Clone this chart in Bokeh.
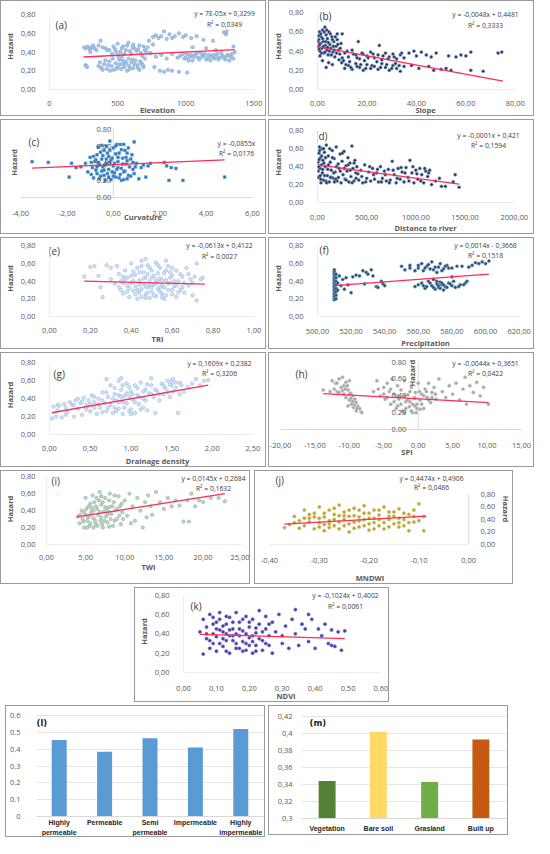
import math
from bokeh.plotting import figure
from bokeh.layouts import column, row, Spacer
from bokeh.models import FixedTicker, Label, Span
from bokeh.embed import file_html
from bokeh.resources import INLINE

# ---------------- DATA ----------------
elevation_pts = [(255,0.45),(265,0.44),(280,0.46),(295,0.43),(310,0.45),(330,0.44),(345,0.42),(360,0.47),(375,0.52),(390,0.45),(410,0.44),(425,0.42),(265,0.26),(275,0.24),(270,0.25),
    (360,0.25),(380,0.23),(400,0.27),(420,0.22),(440,0.30),(455,0.25),(470,0.21),(485,0.28),(500,0.24),(510,0.32),(525,0.22),(540,0.27),(555,0.30),(570,0.20),(585,0.25),(600,0.29),(615,0.23),(630,0.31),(645,0.26),(660,0.21),(675,0.28),(690,0.24),(530,0.35),(580,0.33),
    (460,0.38),(480,0.43),(500,0.49),(520,0.40),(540,0.46),(560,0.42),(580,0.50),(600,0.38),(620,0.44),(640,0.41),(660,0.47),(680,0.36),(700,0.42),(720,0.45),(740,0.39),(760,0.48),(505,0.36),(615,0.48),
    (730,0.52),(760,0.56),(780,0.58),(800,0.55),(820,0.57),(840,0.62),(860,0.54),(880,0.59),(900,0.55),(920,0.57),(950,0.60),(980,0.56),(1000,0.58),(1040,0.55),(1080,0.57),(1130,0.53),
    (780,0.35),(820,0.37),(860,0.33),(900,0.38),(940,0.34),
    (810,0.20),(840,0.19),(870,0.21),(900,0.20),(950,0.19),(1010,0.18),(770,0.24),
    (960,0.36),(990,0.33),(1010,0.38),(1030,0.35),(1050,0.31),(1070,0.37),(1090,0.34),(1110,0.39),(1130,0.36),(1150,0.32),(1170,0.37),(1190,0.35),(1210,0.33),(1230,0.38),(1250,0.34),(1270,0.36),(1290,0.32),(1310,0.37),(1330,0.35),(1350,0.33),(1360,0.40),
    (1050,0.45),(1150,0.44),(1220,0.42),(1280,0.61),(1295,0.59),(1300,0.62),(1350,0.46),(1200,0.52),
    (370,0.29),(390,0.21),(410,0.31),(430,0.26),(445,0.20),(465,0.33),(490,0.22),(515,0.27),(535,0.31),(550,0.24),(565,0.28),(590,0.22),(610,0.32),(625,0.27),(650,0.23),(665,0.30),(685,0.26),(700,0.33),
    (440,0.42),(470,0.46),(490,0.40),(530,0.44),(550,0.38),(570,0.47),(590,0.41),(610,0.45),(650,0.43),(670,0.39),(690,0.46),(710,0.40),
    (980,0.38),(1000,0.34),(1020,0.31),(1040,0.37),(1060,0.35),(1080,0.39),(1100,0.32),(1120,0.35),(1140,0.38),(1160,0.34),(1180,0.31),(1200,0.37),(1220,0.35),(1240,0.32),(1260,0.39),(1280,0.34),(1300,0.36),(1320,0.31),(1340,0.38),(300,0.40),(320,0.47)]

slope_pts = [(0.3,0.45),(0.5,0.52),(0.8,0.60),(1.0,0.40),(1.2,0.48),(1.5,0.55),(1.8,0.43),(2.0,0.62),(2.3,0.50),(2.6,0.38),(3.0,0.65),(3.2,0.46),(3.5,0.57),(3.8,0.41),(4.0,0.53),(4.3,0.36),(4.6,0.60),(5.0,0.47),(5.4,0.43),(5.8,0.55),(6.2,0.39),(6.6,0.50),(7.0,0.34),(7.5,0.45),(8.0,0.58),(8.5,0.41),(9.0,0.37),(9.5,0.48),(10.0,0.33),(1.0,0.35),(2.0,0.30),(3.5,0.23),(4.5,0.28),(6.0,0.26),(0.5,0.56),(2.8,0.44),
    (11,0.22),(12.5,0.25),(14,0.21),(15.5,0.27),(17,0.23),(18.5,0.20),(20,0.26),(21.5,0.22),(23,0.24),(24.5,0.21),(26,0.27),(27.5,0.23),(29,0.20),(30.5,0.25),(32,0.22),(33.5,0.19),(35,0.24),(13,0.29),(19,0.30),
    (11,0.38),(12.5,0.34),(14,0.41),(15.5,0.36),(16.5,0.50),(17,0.32),(18.5,0.37),(20,0.35),(21.5,0.39),(23,0.33),(24.5,0.36),(25,0.46),(26,0.31),(27.5,0.38),(29,0.34),(30.5,0.37),(32,0.32),(33.5,0.36),(35,0.33),
    (37,0.38),(38,0.25),(39,0.40),(40,0.35),(41,0.22),(42,0.39),(44,0.36),(45,0.24),(46,0.34),(47,0.20),(48,0.38),(50,0.21),(52,0.22),(53,0.35),(54,0.20),(56,0.34),(58,0.36),(60,0.35),(62,0.39),(62,0.20),(67,0.19),(73,0.38),(74.5,0.39),
    (0.2,0.50),(0.6,0.42),(0.9,0.47),(1.3,0.58),(1.6,0.38),(2.1,0.53),(2.4,0.45),(2.7,0.60),(3.1,0.39),(3.4,0.50),(3.7,0.62),(4.1,0.44),(4.4,0.49),(4.8,0.40),(5.2,0.58),(5.6,0.36),(6.0,0.52),(6.4,0.45),(6.8,0.41),(7.2,0.55),(7.7,0.38),(8.2,0.47),(8.7,0.31),(9.2,0.43),(9.8,0.28),
    (10.5,0.30),(11.5,0.26),(12,0.40),(13.5,0.23),(14.5,0.37),(16,0.24),(16,0.33),(17.5,0.26),(18,0.38),(19.5,0.22),(20.5,0.33),(22,0.25),(22.5,0.37),(24,0.29),(25.5,0.23),(26.5,0.35),(28,0.26),(28.5,0.32),(30,0.22),(31,0.34),(31.5,0.27),(33,0.25),(34,0.38),(10,0.58),(8,0.52)]

curvature_pts = [(-0.9,0.35),(-0.8,0.42),(-0.7,0.28),(-0.7,0.50),(-0.6,0.22),(-0.6,0.38),(-0.5,0.45),(-0.5,0.31),(-0.4,0.55),(-0.4,0.26),(-0.3,0.40),(-0.3,0.60),(-0.2,0.33),(-0.2,0.48),(-0.1,0.21),(-0.1,0.44),(0.0,0.37),(0.0,0.58),(0.05,0.29),(0.1,0.51),(0.1,0.24),(0.2,0.42),(0.2,0.35),(0.3,0.62),(0.3,0.27),(0.4,0.46),(0.4,0.39),(0.5,0.31),(0.5,0.55),(0.6,0.22),(0.6,0.43),(0.7,0.36),(0.8,0.50),(0.9,0.28),(0.9,0.65),(1.0,0.40),(1.1,0.22),(1.2,0.35),(-1.0,0.47),(-1.1,0.30),(-1.2,0.40),(-1.4,0.36),(-0.15,0.66),(0.35,0.20),(-0.35,0.20),(0.65,0.58),(-0.65,0.59),(-0.25,0.52),(0.15,0.62),(0.75,0.25),(-0.85,0.23),(0.45,0.21),(1.3,0.38),(1.4,0.24),
    (-0.75,0.44),(-0.45,0.36),(-0.05,0.30),(0.25,0.52),(0.55,0.47),(0.85,0.33),(-0.95,0.27),(-0.55,0.53),(-0.15,0.41),(0.35,0.34),
    (-0.85,0.48),(-0.75,0.32),(-0.65,0.41),(-0.55,0.25),(-0.45,0.49),(-0.35,0.38),(-0.25,0.28),(-0.15,0.55),(-0.05,0.46),(0.05,0.40),(0.15,0.33),(0.25,0.23),(0.35,0.56),(0.45,0.30),(0.55,0.39),(0.65,0.26),(0.75,0.45),(0.85,0.41),(0.95,0.36),(-0.95,0.41),(-0.5,0.61),(0.0,0.25),(0.2,0.47),(-0.3,0.45),(0.6,0.52),(-0.7,0.36),(0.1,0.60),(-0.2,0.24),(0.45,0.62),(-0.4,0.32),
    (-3.5,0.42),(-2.8,0.41),(-1.8,0.40),(-1.9,0.24),(-1.6,0.35),(1.5,0.37),(1.6,0.40),(2.2,0.41),(2.3,0.37),(2.5,0.35),(2.7,0.34),(2.4,0.20),(3.0,0.20),(4.8,0.24)]

distance_pts = [(5,0.45),(10,0.28),(15,0.55),(20,0.62),(25,0.38),(30,0.50),(35,0.22),(40,0.42),(45,0.60),(50,0.33),(55,0.47),(60,0.25),(70,0.56),(80,0.40),(90,0.64),(100,0.30),(110,0.52),(120,0.23),(130,0.45),(140,0.36),(150,0.58),(160,0.27),(170,0.49),(180,0.34),(190,0.62),(200,0.24),(210,0.43),(220,0.38),(230,0.54),(240,0.22),(250,0.46),(260,0.31),(270,0.57),(280,0.26),(290,0.41),(300,0.35),(310,0.50),(320,0.23),(330,0.44),(340,0.29),(350,0.63),(360,0.38),(370,0.24),(380,0.47),(390,0.33),(400,0.40),(8,0.35),(18,0.48),(28,0.30),(65,0.44),(85,0.24),(105,0.37),(125,0.60),(145,0.28),(165,0.33),(185,0.26),
    (420,0.25),(440,0.36),(460,0.22),(480,0.42),(500,0.27),(520,0.34),(540,0.24),(560,0.38),(580,0.26),(600,0.33),(620,0.23),(640,0.40),(660,0.27),(680,0.35),(700,0.24),(720,0.37),(740,0.25),(760,0.46),(780,0.31),(800,0.22),(820,0.38),(840,0.26),(860,0.34),(880,0.23),(900,0.39),(920,0.28),(940,0.47),(960,0.33),(980,0.22),(1000,0.36),(1020,0.26),(1040,0.38),(1060,0.31),(1080,0.22),(1100,0.35),(1120,0.29),(1140,0.36),(1160,0.20),
    (1200,0.24),(1240,0.27),(1260,0.18),(1300,0.18),(1380,0.23),(1400,0.31),(1440,0.17),
    (12,0.40),(22,0.58),(32,0.26),(42,0.52),(52,0.37),(62,0.60),(72,0.30),(82,0.50),(92,0.22),(112,0.42),(132,0.28),(152,0.50),(172,0.23),(192,0.40),(212,0.28),(232,0.35),(252,0.55),(272,0.38),(292,0.25),(312,0.42),(332,0.36),(352,0.22),(372,0.44),(392,0.27),
    (410,0.32),(450,0.29),(490,0.23),(530,0.40),(570,0.31),(610,0.37),(650,0.23),(690,0.31),(730,0.22),(770,0.36),(810,0.27),(850,0.39),(890,0.33),(930,0.24),(970,0.40),(1010,0.32),(1050,0.24),(1090,0.38),(1130,0.33)]

tri_pts = [(0.17,0.45),(0.20,0.56),(0.22,0.57),(0.24,0.46),(0.25,0.33),(0.26,0.22),(0.28,0.58),(0.30,0.55),(0.30,0.42),(0.32,0.37),(0.33,0.57),(0.34,0.48),(0.35,0.30),(0.35,0.40),(0.36,0.26),(0.37,0.52),(0.38,0.35),(0.38,0.44),(0.39,0.22),(0.40,0.60),(0.40,0.38),(0.41,0.29),(0.42,0.47),(0.42,0.34),(0.43,0.55),(0.43,0.20),(0.44,0.41),(0.45,0.63),(0.45,0.31),(0.46,0.37),(0.46,0.50),(0.47,0.25),(0.47,0.44),(0.48,0.58),(0.48,0.33),(0.49,0.21),(0.49,0.40),(0.50,0.52),(0.50,0.28),(0.51,0.36),(0.51,0.46),(0.52,0.61),(0.52,0.23),(0.53,0.39),(0.53,0.31),(0.54,0.55),(0.54,0.43),(0.55,0.26),(0.55,0.35),(0.56,0.49),(0.56,0.20),(0.57,0.41),(0.58,0.57),(0.58,0.30),(0.59,0.38),(0.60,0.25),(0.60,0.46),(0.61,0.34),(0.62,0.52),(0.62,0.22),(0.63,0.40),(0.64,0.30),(0.65,0.45),(0.66,0.27),(0.67,0.55),(0.68,0.35),(0.69,0.42),(0.70,0.24),(0.71,0.45),(0.72,0.60),(0.72,0.18),(0.74,0.42),(0.75,0.44),(0.47,0.65),(0.57,0.63),
    (0.36,0.45),(0.41,0.51),(0.44,0.27),(0.49,0.36),(0.52,0.41),(0.57,0.24),(0.59,0.50),(0.44,0.36),(0.54,0.33),(0.39,0.32),
    (0.34,0.33),(0.36,0.38),(0.38,0.28),(0.40,0.46),(0.41,0.40),(0.43,0.30),(0.44,0.50),(0.45,0.22),(0.46,0.43),(0.47,0.34),(0.48,0.27),(0.48,0.48),(0.49,0.55),(0.50,0.33),(0.50,0.44),(0.51,0.24),(0.52,0.37),(0.53,0.49),(0.54,0.28),(0.55,0.41),(0.56,0.33),(0.57,0.52),(0.58,0.37),(0.59,0.44),(0.60,0.30),(0.61,0.40),(0.62,0.35),(0.63,0.27),(0.64,0.48),(0.66,0.38),(0.45,0.57),(0.53,0.58),(0.42,0.25),(0.55,0.22),(0.47,0.21),(0.60,0.55),(0.37,0.42),(0.65,0.33),(0.70,0.38),(0.68,0.48)]

precip_pts = [(510,0.19),(510,0.21),(510,0.23),(510,0.25),(510,0.27),(510,0.29),(510,0.31),(510,0.33),(510,0.35),(510,0.37),(510,0.39),(510,0.41),(510,0.43),(510,0.45),(510,0.47),(510,0.49),(510,0.51),(510,0.53),(511,0.20),(511,0.24),(511,0.28),(511,0.32),(511,0.36),(511,0.40),(511,0.44),(511,0.48),(512,0.30),(512,0.38),
    (513,0.46),(514,0.35),(515,0.42),(516,0.31),(517,0.44),(518,0.36),(520,0.27),(521,0.45),(523,0.47),(525,0.46),(527,0.52),(528,0.37),(529,0.50),(530,0.48),(532,0.53),(533,0.46),(535,0.34),(536,0.33),(538,0.40),(539,0.37),(540,0.35),
    (550,0.57),(552,0.53),(555,0.55),(560,0.55),(562,0.60),(563,0.52),(565,0.57),(567,0.54),(568,0.62),(570,0.56),(571,0.50),(573,0.60),(575,0.54),(577,0.58),(580,0.55),(583,0.57),(586,0.57),(590,0.56),
    (558,0.34),(562,0.38),(564,0.32),(566,0.40),(568,0.35),(569,0.42),(570,0.31),(571,0.37),(572,0.33),(573,0.39),(574,0.36),(575,0.30),(576,0.34),(578,0.38),(580,0.35),(582,0.33),(585,0.36),(588,0.38),(580,0.45),
    (592,0.58),(594,0.61),(596,0.60),(598,0.62),(600,0.60),(602,0.63),
    (555,0.58),(558,0.52),(560,0.58),(564,0.55),(566,0.59),(569,0.53),(572,0.56),(574,0.52),(576,0.57),(578,0.55),(560,0.36),(563,0.35),(565,0.34),(567,0.38),(569,0.33),(571,0.40),(572,0.35),(573,0.32),(574,0.38),(575,0.36),(577,0.33),(579,0.37),(581,0.40),(584,0.34),(587,0.36),(589,0.40)]

drainage_pts = [(0.03,0.18),(0.05,0.31),(0.08,0.20),(0.10,0.33),(0.12,0.32),(0.15,0.19),(0.18,0.34),(0.20,0.30),(0.22,0.25),(0.25,0.36),(0.28,0.33),(0.30,0.20),(0.32,0.38),(0.35,0.29),(0.38,0.35),(0.40,0.22),(0.42,0.41),(0.45,0.33),(0.48,0.38),(0.50,0.26),(0.52,0.44),(0.55,0.36),(0.58,0.23),(0.60,0.40),(0.62,0.30),(0.65,0.47),(0.68,0.35),(0.70,0.26),(0.72,0.42),(0.75,0.55),(0.75,0.33),(0.78,0.24),(0.80,0.45),(0.82,0.38),(0.85,0.29),(0.85,0.60),(0.88,0.50),(0.90,0.23),(0.92,0.43),(0.95,0.35),(0.95,0.57),(0.98,0.26),(1.00,0.48),(1.02,0.39),(1.05,0.55),(1.05,0.24),(1.08,0.44),(1.10,0.34),(1.12,0.58),(1.15,0.40),(1.18,0.50),(1.20,0.27),(1.22,0.46),(1.25,0.55),(1.28,0.42),(1.30,0.24),(1.32,0.49),(1.35,0.38),(1.38,0.57),(1.40,0.45),(1.42,0.52),(1.45,0.60),(1.48,0.42),(1.50,0.55),(1.52,0.48),(1.55,0.58),(1.58,0.24),(1.60,0.45),(1.62,0.55),(1.65,0.48),(1.70,0.53),(1.75,0.57),(1.80,0.62),(1.85,0.55),(1.90,0.60),(1.95,0.61),(0.88,0.63),(1.25,0.63),(0.70,0.62),
    (0.80,0.30),(0.90,0.36),(1.00,0.28),(0.65,0.38),(0.55,0.30),(0.98,0.42),(1.15,0.30),(0.85,0.44),
    (0.10,0.27),(0.20,0.22),(0.30,0.33),(0.40,0.37),(0.45,0.28),(0.55,0.42),(0.60,0.34),(0.65,0.25),(0.70,0.47),(0.72,0.30),(0.78,0.40),(0.80,0.52),(0.82,0.26),(0.85,0.36),(0.88,0.42),(0.90,0.55),(0.92,0.30),(0.95,0.46),(0.98,0.53),(1.00,0.23),(1.02,0.45),(1.05,0.36),(1.08,0.52),(1.10,0.42),(1.12,0.28),(1.15,0.48),(1.18,0.38),(1.20,0.56),(1.25,0.45),(1.30,0.50),(1.35,0.45),(1.40,0.55),(1.45,0.48),(1.50,0.60),(1.55,0.52),(1.60,0.58),(1.48,0.56),(1.52,0.62),(0.35,0.40),(0.50,0.34)]

spi_pts = [(-13.8,0.47),(-12.5,0.58),(-12.0,0.55),(-11.8,0.45),(-11.5,0.60),(-11.2,0.50),(-11.0,0.62),(-10.8,0.42),(-10.5,0.56),(-10.5,0.38),(-10.2,0.47),(-10.0,0.35),(-10.0,0.58),(-9.8,0.43),(-9.7,0.30),(-9.5,0.40),(-9.4,0.26),(-9.2,0.36),(-9.0,0.32),(-9.0,0.22),(-8.8,0.28),(-8.5,0.25),(-8.3,0.21),(-8.2,0.20),(-11.5,0.44),(-12.8,0.45),(-10.8,0.52),(-10.2,0.28),(-9.6,0.34),
    (-6.5,0.45),(-6.0,0.58),(-5.5,0.40),(-5.0,0.50),(-4.8,0.36),(-4.5,0.55),(-4.2,0.45),(-4.0,0.30),(-3.8,0.60),(-3.5,0.42),(-3.2,0.25),(-3.0,0.52),(-2.8,0.36),(-2.5,0.47),(-2.3,0.22),(-2.0,0.58),(-1.8,0.33),(-1.5,0.41),(-1.3,0.27),(-1.0,0.50),(-0.8,0.20),(-0.6,0.37),(-0.4,0.44),(-0.2,0.30),(0.0,0.55),(0.3,0.35),(0.5,0.42),(0.8,0.25),(1.0,0.48),(1.3,0.38),(1.5,0.55),(1.8,0.32),(2.0,0.44),(2.3,0.50),(2.6,0.36),(3.0,0.60),(-2.0,0.20),(-1.0,0.22),(-0.5,0.28),
    (3.5,0.45),(4.0,0.38),(4.5,0.52),(5.0,0.42),(5.5,0.55),(6.0,0.35),(6.5,0.48),(6.8,0.62),(7.0,0.30),(7.5,0.52),(8.0,0.44),(8.5,0.56),(9.0,0.40),(9.5,0.50),(10.2,0.30),
    (-11.0,0.46),(-10.6,0.48),(-10.3,0.52),(-10.0,0.42),(-9.8,0.37),(-9.5,0.33),(-9.3,0.29),(-8.9,0.25),(-11.8,0.55),(-12.2,0.48),(-5.8,0.48),(-5.0,0.42),(-4.5,0.38),(-4.0,0.48),(-3.5,0.33),(-3.0,0.40),(-2.5,0.30),(-2.0,0.40),(-1.5,0.35),(-1.2,0.45),(-0.8,0.30),(-0.5,0.38),(-0.2,0.25),(0.2,0.45),(0.5,0.30),(0.8,0.40),(1.2,0.45),(1.5,0.35),(2.0,0.38),(2.5,0.42),(-3.0,0.28),(-1.8,0.25),(-1.2,0.33),(-0.3,0.20),(0.3,0.24)]

twi_pts = [(4.0,0.33),(4.2,0.25),(4.5,0.40),(4.8,0.20),(5.0,0.35),(5.2,0.28),(5.4,0.45),(5.5,0.22),(5.7,0.38),(5.9,0.58),(6.0,0.31),(6.1,0.50),(6.3,0.24),(6.5,0.42),(6.6,0.35),(6.8,0.62),(6.9,0.28),(7.0,0.47),(7.2,0.20),(7.3,0.39),(7.5,0.55),(7.6,0.33),(7.8,0.26),(8.0,0.44),(8.1,0.60),(8.3,0.36),(8.5,0.22),(8.6,0.50),(8.8,0.40),(9.0,0.30),(9.2,0.57),(9.4,0.45),(9.5,0.24),(9.7,0.38),(10.0,0.52),(5.0,0.55),(6.0,0.20),(7.0,0.57),(8.0,0.21),(4.6,0.30),(5.8,0.43),(6.7,0.52),(7.7,0.42),(8.7,0.28),
    (10.3,0.34),(10.6,0.60),(11.0,0.45),(11.3,0.28),(11.6,0.55),(12.0,0.40),(12.3,0.20),(12.6,0.50),(13.0,0.58),(13.3,0.45),(13.5,0.35),(14.0,0.62),(14.5,0.50),(15.0,0.42),(15.5,0.55),(16.0,0.45),(16.5,0.52),(17.0,0.46),(17.5,0.27),(18.0,0.52),(18.2,0.27),(18.5,0.60),(19.0,0.45),(19.5,0.52),(20.0,0.50),(21.0,0.55),(22.0,0.55),(22.8,0.51),(10.8,0.25),(12.8,0.32),
    (4.3,0.35),(4.7,0.27),(5.1,0.42),(5.3,0.32),(5.6,0.25),(5.6,0.48),(6.0,0.40),(6.2,0.28),(6.4,0.55),(6.5,0.22),(6.8,0.38),(7.0,0.32),(7.2,0.50),(7.4,0.28),(7.5,0.44),(7.8,0.36),(8.0,0.52),(8.2,0.30),(8.4,0.45),(8.7,0.58),(9.0,0.42),(9.3,0.34),(9.6,0.48),(9.8,0.30),(5.5,0.34),(6.3,0.45),(7.1,0.24),(8.0,0.38),(4.8,0.38),(5.2,0.20)]

mndwi_pts = [(-0.37,0.27),(-0.35,0.45),(-0.34,0.38),(-0.33,0.55),(-0.33,0.30),(-0.32,0.42),(-0.31,0.25),(-0.31,0.50),(-0.30,0.35),(-0.30,0.60),(-0.29,0.22),(-0.29,0.44),(-0.28,0.38),(-0.28,0.55),(-0.27,0.30),(-0.27,0.48),(-0.26,0.63),(-0.26,0.25),(-0.25,0.40),(-0.25,0.52),(-0.24,0.33),(-0.24,0.20),(-0.23,0.46),(-0.23,0.58),(-0.22,0.28),(-0.22,0.38),(-0.21,0.50),(-0.21,0.62),(-0.20,0.23),(-0.20,0.42),(-0.19,0.35),(-0.19,0.55),(-0.18,0.30),(-0.18,0.47),(-0.17,0.60),(-0.17,0.25),(-0.16,0.40),(-0.16,0.52),(-0.15,0.33),(-0.15,0.45),(-0.14,0.28),(-0.14,0.57),(-0.13,0.40),(-0.13,0.50),(-0.12,0.35),(-0.12,0.22),(-0.11,0.45),(-0.11,0.55),(-0.10,0.38),(-0.10,0.65),(-0.09,0.22),(-0.09,0.45),(-0.36,0.32),(-0.32,0.48),(-0.28,0.27),(-0.24,0.45),(-0.20,0.33),(-0.16,0.28),(-0.30,0.42),(-0.26,0.36),(-0.22,0.55),(-0.18,0.40),(-0.14,0.42),(-0.34,0.26),
    (-0.35,0.35),(-0.33,0.42),(-0.32,0.36),(-0.31,0.44),(-0.30,0.28),(-0.29,0.50),(-0.28,0.33),(-0.27,0.40),(-0.26,0.46),(-0.25,0.30),(-0.24,0.55),(-0.23,0.36),(-0.22,0.44),(-0.21,0.30),(-0.20,0.50),(-0.19,0.42),(-0.18,0.55),(-0.17,0.35),(-0.16,0.45),(-0.15,0.52),(-0.14,0.35),(-0.13,0.30),(-0.12,0.48),(-0.11,0.36),(-0.27,0.58),(-0.23,0.26),(-0.19,0.25),(-0.29,0.32),(-0.25,0.46),(-0.21,0.40)]

ndvi_pts = [(0.05,0.42),(0.06,0.19),(0.06,0.55),(0.07,0.35),(0.07,0.47),(0.08,0.25),(0.08,0.60),(0.09,0.40),(0.09,0.30),(0.10,0.52),(0.10,0.22),(0.11,0.44),(0.11,0.62),(0.12,0.35),(0.12,0.27),(0.13,0.50),(0.13,0.40),(0.14,0.20),(0.14,0.57),(0.15,0.33),(0.15,0.45),(0.16,0.25),(0.16,0.62),(0.17,0.38),(0.17,0.52),(0.18,0.22),(0.18,0.43),(0.19,0.30),(0.19,0.58),(0.20,0.36),(0.20,0.47),(0.21,0.20),(0.21,0.55),(0.22,0.28),(0.22,0.41),(0.23,0.50),(0.23,0.64),(0.24,0.33),(0.24,0.23),(0.25,0.45),(0.25,0.58),(0.26,0.38),(0.26,0.28),(0.27,0.52),(0.27,0.20),(0.12,0.42),(0.14,0.38),(0.16,0.40),(0.10,0.37),(0.18,0.32),
    (0.28,0.42),(0.29,0.60),(0.30,0.30),(0.31,0.48),(0.32,0.25),(0.33,0.55),(0.34,0.65),(0.34,0.40),(0.35,0.28),(0.36,0.50),(0.37,0.45),(0.38,0.32),(0.39,0.55),(0.40,0.25),(0.41,0.45),(0.42,0.38),(0.43,0.50),(0.44,0.30),(0.45,0.28),(0.45,0.44),(0.46,0.27),(0.47,0.42),(0.48,0.23),(0.49,0.43),(0.30,0.38),(0.38,0.60),
    (0.07,0.40),(0.08,0.33),(0.09,0.50),(0.10,0.45),(0.11,0.30),(0.11,0.55),(0.12,0.48),(0.13,0.33),(0.13,0.22),(0.14,0.44),(0.15,0.38),(0.15,0.52),(0.16,0.30),(0.17,0.45),(0.17,0.25),(0.18,0.55),(0.19,0.40),(0.19,0.23),(0.20,0.28),(0.20,0.52),(0.21,0.38),(0.22,0.46),(0.22,0.22),(0.23,0.35),(0.24,0.42),(0.25,0.30),(0.26,0.50),(0.13,0.58),(0.09,0.57),(0.21,0.32)]

# trend line end points (x0, x1), (y0, y1)
trend_a = ([250, 1360], [0.347, 0.425])
trend_b = ([0, 75], [0.448, 0.088])
trend_c = ([-3.5, 4.8], [0.345, 0.44])
trend_d = ([0, 1440], [0.42, 0.205])
trend_e = ([0.17, 0.76], [0.40, 0.365])
trend_f = ([510, 602], [0.35, 0.48])
trend_g = ([0.03, 1.95], [0.243, 0.552])
trend_h = ([-13.8, 10.2], [0.426, 0.32])
trend_i = ([3.9, 22.8], [0.325, 0.599])
trend_j = ([-0.37, -0.085], [0.325, 0.452])
trend_k = ([0.05, 0.49], [0.395, 0.35])

hz_ticks = [0, 0.2, 0.4, 0.6, 0.8]
hz_comma = ["0,00", "0,20", "0,40", "0,60", "0,80"]
hz_dot = ["0.00", "0.20", "0.40", "0.60", "0.80"]

perm_cats = ["Highly permeable", "Permeable", "Semi permeable", "Impermeable", "Highly impermeable"]
perm_lines = [("Highly", "permeable"), ("Permeable", ""), ("Semi", "permeable"), ("Impermeable", ""), ("Highly", "impermeable")]
perm_vals = [0.455, 0.385, 0.465, 0.41, 0.52]
perm_ticks = [0, 0.1, 0.2, 0.3, 0.4, 0.5, 0.6]
perm_tick_labels = ["0", "0.1", "0.2", "0.3", "0.4", "0.5", "0.6"]

lc_cats = ["Vegetation", "Bare soil", "Grasland", "Built up"]
lc_lines = [("Vegetation", ""), ("Bare soil", ""), ("Grasland", ""), ("Built up", "")]
lc_vals = [0.344, 0.402, 0.343, 0.393]
lc_colors = ["#548235", "#ffd966", "#70ad47", "#c55a11"]
lc_ticks = [0.3, 0.32, 0.34, 0.36, 0.38, 0.4, 0.42]
lc_tick_labels = ["0,3", "0,32", "0,34", "0,36", "0,38", "0,4", "0,42"]

# ---------------- STYLE ----------------
FONT = "Open Sans"
CAT_FONT = "Liberation Sans"
TICK_C = "#595959"
AX_C = "#d9d9d9"
PANEL_STYLE = {"border": "1px solid #9a9a9a", "box-sizing": "border-box"}


def style_axis(ax, ticks, labels, title=None, s1=3, s2=1):
    ax.ticker = FixedTicker(ticks=ticks)
    ax.major_label_overrides = {t: l for t, l in zip(ticks, labels)}
    ax.major_tick_line_color = None
    ax.minor_tick_line_color = None
    ax.axis_line_color = None
    ax.major_label_text_font = FONT
    ax.major_label_text_font_size = "7.5px"
    ax.major_label_text_color = TICK_C
    ax.major_label_standoff = s1
    if title:
        ax.axis_label = title
        ax.axis_label_text_font = FONT
        ax.axis_label_text_font_size = "7.5px"
        ax.axis_label_text_font_style = "bold"
        ax.axis_label_text_color = TICK_C
        ax.axis_label_standoff = s2


def txt(p, x, y, text, dx, dy, align="center", size="6.8px", bold=False, angle=0.0, base="middle", font=FONT, color="#404040"):
    p.add_layout(Label(x=x, y=y, text=text, x_offset=dx, y_offset=dy, text_align=align,
                       text_baseline=base, text_font=font, text_font_size=size,
                       text_font_style=("bold" if bold else "normal"), text_color=color, angle=angle))


def make_scatter(w, h, box, pads, xt, xl, xlabel, xstand, pts, trend, fill, edge,
                 tag, tag_xy, eq, r2, eq_pos, ymode="left", yl=hz_comma, ystand=(8, 3),
                 marker="circle", size=3.4, zero_off=-2):
    bl, br, bt, bb = box
    pt, pr, pbm = pads
    mt, mr, mbm = bt - pt, br - pr, bb - pbm
    dw = w - bl - br
    dh = h - bt - bb
    x0, x1 = xt[0], xt[-1]
    y0, y1 = hz_ticks[0], hz_ticks[-1]
    xr = (x0, x1 + pr * (x1 - x0) / dw)
    yr = (y0 - pbm * (y1 - y0) / dh, y1 + pt * (y1 - y0) / dh)
    p = figure(width=w, height=h, x_range=xr, y_range=yr, output_backend="svg",
               toolbar_location=None, min_border_left=bl, min_border_right=mr,
               min_border_top=mt, min_border_bottom=mbm,
               y_axis_location=("right" if ymode == "right" else "left"))
    p.styles = PANEL_STYLE
    p.outline_line_color = None
    p.xgrid.visible = False
    p.ygrid.visible = False
    style_axis(p.xaxis[0], xt, xl, xlabel, xstand[0], xstand[1])
    # axis lines
    p.segment(x0=[x0], y0=[y0], x1=[x1], y1=[y0], line_color=AX_C, line_width=1)
    if ymode == "left":
        yx = x0
    elif ymode == "right":
        yx = x1
    else:
        yx = 0
    p.segment(x0=[yx], y0=[y0], x1=[yx], y1=[y1], line_color=AX_C, line_width=1)
    if ymode in ("left", "right"):
        style_axis(p.yaxis[0], hz_ticks, yl, "Hazard", ystand[0], ystand[1])
    else:
        style_axis(p.yaxis[0], [], [], "Hazard" if ymode == "zero" else None, 2, 2)
        if ymode == "zero_notitle":
            p.yaxis.visible = False
        for t, l in zip(hz_ticks, yl):
            txt(p, 0, t, l, zero_off, 0, align="right", size="7.5px", color=TICK_C)
        if ymode == "zero_notitle":
            txt(p, 0, 0.67, "Hazard", -1, 0, size="7.5px", bold=True, angle=math.pi / 2,
                base="bottom", color=TICK_C)
    xs = [a for a, b in pts]
    ys = [b for a, b in pts]
    p.scatter(xs, ys, marker=marker, size=size, fill_color=fill, line_color=edge, line_width=0.6)
    p.line(trend[0], trend[1], line_color="#ff2d55", line_width=1.3)
    cfr, ey, ry = eq_pos
    txt(p, xr[1], yr[1], eq, -(cfr - mr), -(ey - mt))
    txt(p, xr[1], yr[1], r2, -(cfr - mr), -(ry - mt))
    txt(p, xr[0], yr[1], tag, tag_xy[0] - bl, -(tag_xy[1] - mt), align="left", size="10px")
    return p


def make_bar(w, h, box, pads, cats, lines, line_dy, vals, colors, yt, yl, ystand,
             tag, tag_xy, bw, cat_font_size="7px"):
    bl, br, bt, bb = box
    pt, pbm = pads
    mt, mbm = bt - pt, bb - pbm
    dh = h - bt - bb
    y0, y1 = yt[0], yt[-1]
    yr = (y0 - pbm * (y1 - y0) / dh, y1 + pt * (y1 - y0) / dh)
    p = figure(width=w, height=h, x_range=cats, y_range=yr, output_backend="svg",
               toolbar_location=None, min_border_left=bl, min_border_right=br,
               min_border_top=mt, min_border_bottom=mbm)
    p.styles = PANEL_STYLE
    p.outline_line_color = None
    p.xgrid.visible = False
    p.ygrid.grid_line_color = "#e4e4e4"
    p.ygrid.ticker = FixedTicker(ticks=yt[1:])
    p.vbar(x=cats, top=vals, bottom=y0, width=bw, fill_color=colors, line_color=None)
    p.add_layout(Span(location=y0, dimension="width", line_color=AX_C, line_width=1))
    style_axis(p.yaxis[0], yt, yl, None, ystand, 0)
    p.xaxis.visible = False
    for i, (l1, l2) in enumerate(lines):
        for j, t in enumerate((l1, l2)):
            if t:
                txt(p, i + 0.5, y0, t, 0, -line_dy[j], size=cat_font_size, bold=True,
                    font=CAT_FONT, color="#262626")
    txt(p, 0, yr[1], tag, tag_xy[0] - bl, -(tag_xy[1] - mt), align="left", size="8.5px",
        bold=True, font="DejaVu Sans", color="#262626")
    return p


# ---------------- PANELS ----------------
pa = make_scatter(266, 116, (41, 14, 14, 21), (12, 12, 0), [0, 500, 1000, 1500],
                  ["0", "500", "1000", "1500"], "Elevation", (5, -4), elevation_pts, trend_a,
                  "#a9c5e6", "#7aa3d4", "(a)", (47, 23), "y = 7E-05x + 0,3299", "R² = 0,0349", (43, 12, 23))
pb = make_scatter(266, 116, (38, 21, 12, 21), (10, 19, 0), [0, 20, 40, 60, 80],
                  ["0,00", "20,00", "40,00", "60,00", "80,00"], "Slope", (5, -4), slope_pts, trend_b,
                  "#1f3864", "#8ea5c8", "(b)", (40, 14), "y = -0,0048x + 0,4481", "R² = 0,3333", (50, 13, 24),
                  size=3.2)
pc = make_scatter(266, 115, (19, 15, 10, 21), (8, 13, 6), [-4, -2, 0, 2, 4, 6],
                  ["-4,00", "-2,00", "0,00", "2,00", "4,00", "6,00"], "Curvature", (2, -7), curvature_pts, trend_c,
                  "#2e75b6", "#5b9bd5", "(c)", (27, 21), "y = -0,0855x", "R² = 0,0176", (31, 23, 33),
                  ymode="zero", yl=hz_dot, marker="square", size=2.8)
pd_ = make_scatter(266, 115, (40, 22, 11, 26), (9, 20, 0), [0, 500, 1000, 1500, 2000],
                   ["0,00", "500,00", "1000,00", "1500,00", "2000,00"], "Distance to river", (6, 0), distance_pts,
                   trend_d, "#1f3864", "#8ea5c8", "(d)", (38, 15), "y = -0,0001x + 0,421", "R² = 0,1594",
                   (47, 15, 25), size=3.2)
pe = make_scatter(266, 112, (40, 14, 8, 23), (6, 12, 0), [0, 0.2, 0.4, 0.6, 0.8, 1.0],
                  ["0,00", "0,20", "0,40", "0,60", "0,80", "1,00"], "TRI", (5, -2), tri_pts, trend_e,
                  "#d6e3f5", "#8fb3e0", "(e)", (39, 12), "y = -0,0613x + 0,4122", "R² = 0,0027", (48, 7, 18))
pf = make_scatter(266, 112, (38, 17, 8, 27), (6, 15, 0), [500, 520, 540, 560, 580, 600, 620],
                  ["500,00", "520,00", "540,00", "560,00", "580,00", "600,00", "620,00"], "Precipitation", (6, 1),
                  precip_pts, trend_f, "#1f4e79", "#7f9fc0", "(f)", (40, 11), "y = 0,0014x - 0,3668", "R² = 0,1518",
                  (50, 7, 17), size=3.2)
pg = make_scatter(266, 115, (40, 15, 10, 28), (8, 13, 0), [0, 0.5, 1.0, 1.5, 2.0, 2.5],
                  ["0,00", "0,50", "1,00", "1,50", "2,00", "2,50"], "Drainage density", (5, 2), drainage_pts, trend_g,
                  "#d6e3f5", "#8fb3e0", "(g)", (44, 20), "y = 0,1609x + 0,2382", "R² = 0,3206", (48, 10, 20))
ph = make_scatter(266, 115, (11, 14, 10, 24), (8, 12, 6), [-20, -15, -10, -5, 0, 5, 10, 15],
                  ["-20,00", "-15,00", "-10,00", "-5,00", "0,00", "5,00", "10,00", "15,00"], "SPI", (2, -4),
                  spi_pts, trend_h, "#a6a6a6", "#cfcfcf", "(h)", (26, 20), "y = -0,0044x + 0,3651", "R² = 0,0422",
                  (50, 10, 20), ymode="zero_notitle", yl=hz_dot, zero_off=-12)
pi_ = make_scatter(250, 114, (31, 10, 6, 23), (4, 9, 0), [0, 5, 10, 15, 20, 25],
                   ["0,00", "5,00", "10,00", "15,00", "20,00", "25,00"], "TWI", (4, -1), twi_pts, trend_i,
                   "#bfd2bc", "#8fb2a6", "(i)", (36, 9), "y = 0,0145x + 0,2684", "R² = 0,1632", (38, 7, 17),
                   ystand=(5, 3))
pj = make_scatter(259, 114, (14, 32, 25, 34), (23, 2, 0), [-0.4, -0.3, -0.2, -0.1, 0],
                  ["-0,40", "-0,30", "-0,20", "-0,10", "0,00"], "MNDWI", (7, 7), mndwi_pts, trend_j,
                  "#b9a53c", "#d8c873", "(j)", (20, 8), "y = 0,4474x + 0,4906", "R² = 0,0486", (69, 7, 16),
                  ymode="right", ystand=(4, 3))
pk = make_scatter(255, 115, (36, 10, 7, 24), (5, 8, 0), [0, 0.1, 0.2, 0.3, 0.4, 0.5, 0.6],
                  ["0,00", "0,10", "0,20", "0,30", "0,40", "0,50", "0,60"], "NDVI", (7, -3), ndvi_pts, trend_k,
                  "#4b42a8", "#6f67c4", "(k)", (43, 17), "y = -0,1024x + 0,4002", "R² = 0,0061", (45, 7, 18),
                  size=3.2)

pl = make_bar(260, 132, (26, 3, 9, 22), (7, 20), perm_cats, perm_lines, (6, 16), perm_vals, ["#5b9bd5"] * 5,
              perm_ticks, perm_tick_labels, 10, "(l)", (26, 16), 0.33)
pm = make_bar(240, 130, (32, 3, 10, 18), (8, 16), lc_cats, lc_lines, (10, 20), lc_vals, lc_colors,
              lc_ticks, lc_tick_labels, 3, "(m)", (40, 16), 0.33)

layout = column(
    row(pa, pb, spacing=2),
    row(pc, pd_, spacing=2),
    row(pe, pf, spacing=2),
    row(pg, ph, spacing=2),
    row(pi_, pj, spacing=4),
    row(Spacer(width=134, height=10), pk, spacing=0),
    row(Spacer(width=2, height=10), pl, pm, spacing=3),
    spacing=3,
)

open("out.html", "w").write(file_html(layout, INLINE))
